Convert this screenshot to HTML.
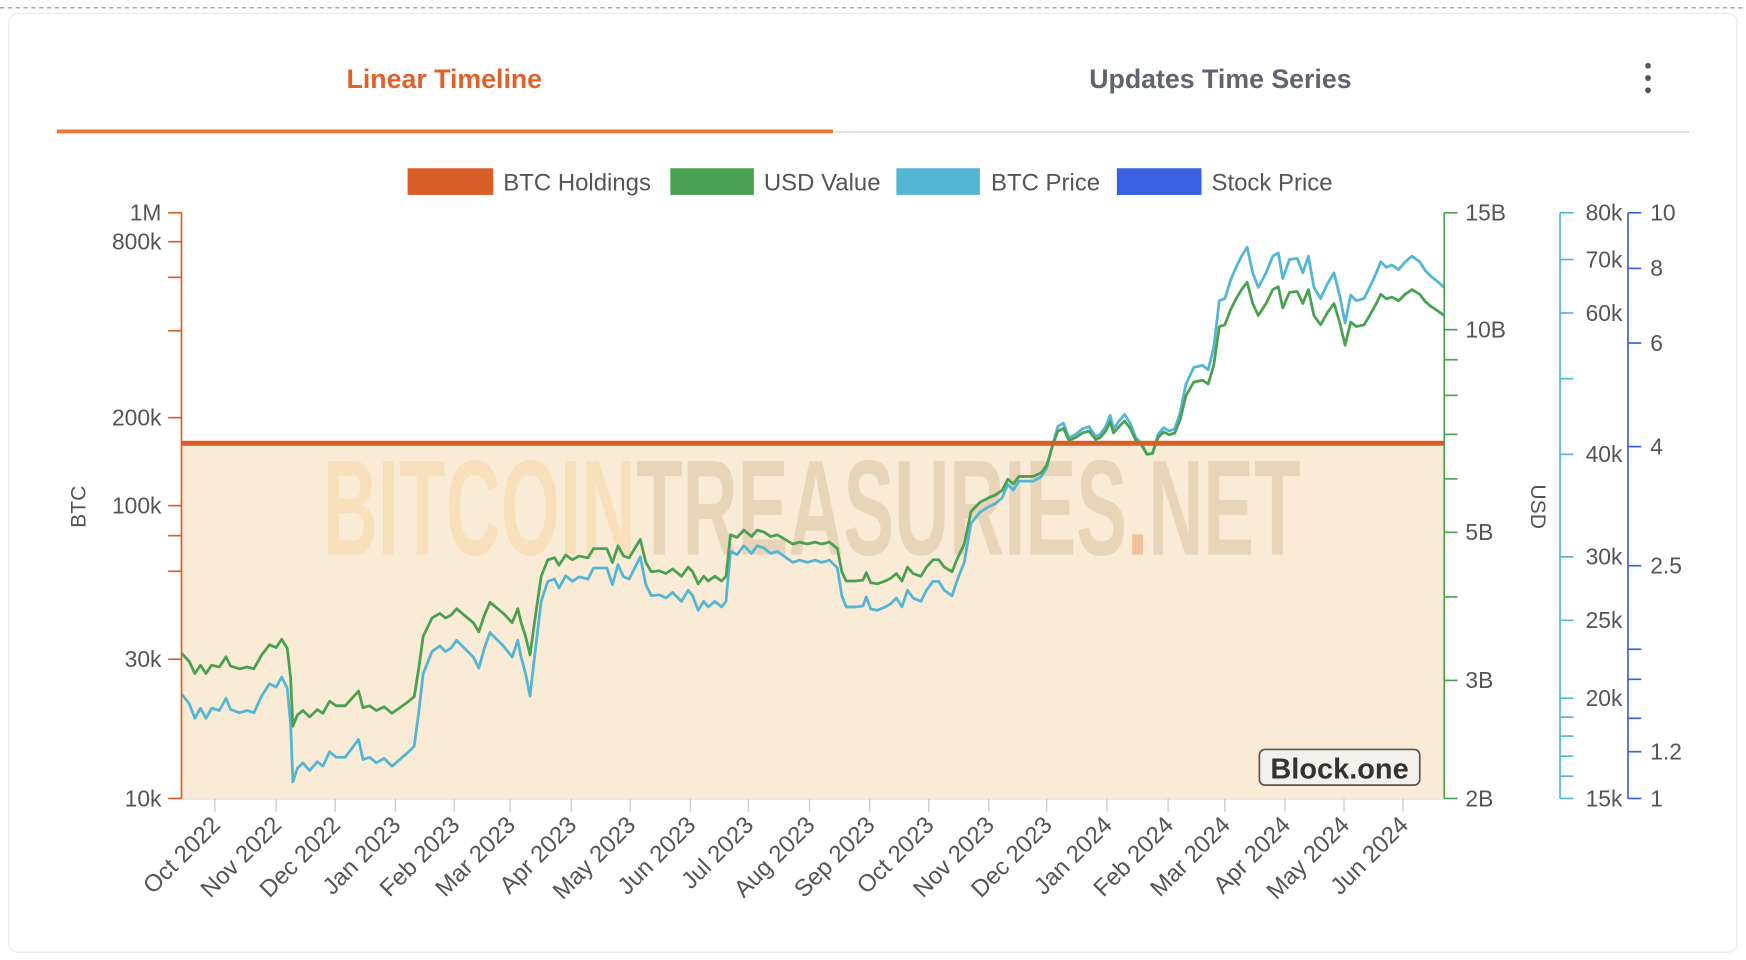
<!DOCTYPE html>
<html><head><meta charset="utf-8"><style>
html,body{margin:0;padding:0;background:#fff;}
svg{display:block;font-family:"Liberation Sans",sans-serif;}
</style></head><body>
<svg id="s" width="1746" height="960" viewBox="0 0 1568 862" xmlns="http://www.w3.org/2000/svg">
<line x1="0" y1="7" x2="1568" y2="7" stroke="#8a8fa8" stroke-dasharray="4,3" stroke-width="1"/>
<rect x="8" y="12" width="1552" height="843" rx="8" fill="#fff" stroke="#e8e8e8"/>
<text x="399" y="79" text-anchor="middle" font-size="24" font-weight="bold" fill="#e0622a">Linear Timeline</text>
<text x="1096" y="79" text-anchor="middle" font-size="24" font-weight="bold" fill="#5f6470">Updates Time Series</text>
<circle cx="1480" cy="59" r="2.6" fill="#555"/><circle cx="1480" cy="70" r="2.6" fill="#555"/><circle cx="1480" cy="81" r="2.6" fill="#555"/>
<line x1="748" y1="118.5" x2="1517" y2="118.5" stroke="#e2e2e2" stroke-width="2"/>
<line x1="51" y1="118" x2="748" y2="118" stroke="#e8783a" stroke-width="3.5"/>
<g font-size="21.5" fill="#555">
<rect x="366" y="151" width="77" height="24" fill="#d95f28"/><text x="452" y="171">BTC Holdings</text>
<rect x="602" y="151" width="75" height="24" fill="#4aa152"/><text x="686" y="171">USD Value</text>
<rect x="805" y="151" width="75" height="24" fill="#54b6d4"/><text x="890" y="171">BTC Price</text>
<rect x="1003" y="151" width="76" height="24" fill="#3a5fe0"/><text x="1088" y="171">Stock Price</text>
</g>
<rect x="163" y="398" width="1134" height="319" fill="#faebd6"/>
<text x="290" y="498" font-size="122" font-weight="bold" textLength="878" lengthAdjust="spacingAndGlyphs" opacity="0.55"><tspan fill="#f7d8a8">BITCOIN</tspan><tspan fill="#d9c2a2">TREASURIES</tspan><tspan fill="#e8a070">.</tspan><tspan fill="#d9c2a2">NET</tspan></text>
<g id="lines"></g>
<line x1="163" y1="398" x2="1297" y2="398" stroke="#d95f28" stroke-width="4.5"/>
<rect x="1131" y="673" width="144" height="32" rx="5" fill="#f4f1ec" stroke="#555" stroke-width="1.5"/>
<text x="1203" y="699" text-anchor="middle" font-size="26" font-weight="bold" fill="#333">Block.one</text>
<g id="axes"></g>
<text transform="translate(77,455) rotate(-90)" text-anchor="middle" font-size="19" fill="#555">BTC</text>
<text transform="translate(1375,455) rotate(90)" text-anchor="middle" font-size="19" fill="#555">USD</text>
</svg>
<script>
var NS="http://www.w3.org/2000/svg";
function el(p,t,a,txt){var e=document.createElementNS(NS,t);for(var k in a)e.setAttribute(k,a[k]);if(txt!=null)e.textContent=txt;document.getElementById(p).appendChild(e);return e;}
var c=[[163,623],[170,632],[175,645],[180,636],[185,645],[190,636],[197,638],[203,627],[207,637],[215,640],[222,638],[228,640],[235,625],[242,614],[248,617],[253,608],[258,618],[261,650],[263,702],[267,690],[272,685],[278,692],[285,684],[290,688],[296,675],[302,680],[310,680],[316,672],[322,664],[326,682],[332,680],[338,685],[345,681],[352,688],[358,683],[366,676],[372,670],[376,640],[380,605],[388,585],[395,580],[400,585],[405,582],[410,575],[418,583],[425,590],[430,600],[435,582],[440,568],[447,575],[452,580],[460,590],[465,575],[468,590],[472,605],[476,625],[480,590],[486,540],[492,522],[498,520],[502,528],[508,517],[514,522],[520,518],[528,520],[533,510],[538,510],[545,510],[550,525],[555,507],[560,518],[565,520],[570,510],[575,500],[580,525],[585,535],[592,534],[598,537],[604,532],[612,540],[618,530],[622,535],[627,548],[632,540],[636,545],[642,540],[648,545],[652,540],[656,495],[662,498],[668,490],[675,497],[680,490],[686,492],[692,497],[698,495],[705,500],[712,505],[718,503],[725,505],[732,503],[738,505],[745,503],[752,510],[756,535],[760,545],[768,545],[775,544],[778,536],[782,547],[788,548],[795,545],[800,542],[805,537],[810,545],[815,530],[820,537],[827,540],[832,530],[838,522],[843,522],[848,530],[855,535],[860,520],[866,505],[872,470],[880,460],[888,455],[894,452],[900,447],[905,435],[910,440],[915,432],[920,432],[928,432],[935,428],[940,420],[945,400],[950,383],[955,380],[960,393],[966,390],[972,385],[978,383],[984,392],[988,390],[993,383],[997,373],[1000,385],[1005,378],[1010,372],[1015,380],[1020,393],[1025,398],[1030,408],[1035,407],[1040,390],[1045,384],[1050,387],[1055,385],[1060,370],[1065,345],[1072,330],[1080,328],[1085,332],[1090,312],[1095,270],[1100,268],[1105,252],[1110,240],[1115,230],[1120,222],[1125,245],[1130,258],[1137,245],[1143,230],[1148,227],[1152,250],[1158,233],[1165,232],[1170,245],[1175,230],[1180,258],[1186,268],[1192,255],[1198,245],[1203,265],[1208,290],[1213,265],[1218,270],[1225,268],[1230,258],[1236,245],[1240,235],[1245,240],[1250,238],[1256,242],[1262,235],[1268,230],[1275,235],[1280,243],[1285,248],[1290,252],[1297,258]];
var cp=c.map(function(p){return p.join(",")}).join(" ");
var gp=c.map(function(p){var price=15000*Math.pow(10,(717-p[1])/723.5);var v=price*163000/2e9;return p[0]+","+(717-601*Math.log10(v)).toFixed(1)}).join(" ");
el("lines","polyline",{points:cp,fill:"none",stroke:"#54b6d4","stroke-width":2.5,"stroke-linejoin":"round"});
el("lines","polyline",{points:gp,fill:"none",stroke:"#4aa152","stroke-width":2.5,"stroke-linejoin":"round"});
function axis(x,col,dir,ticks,lx,anchor){
 el("axes","line",{x1:x,y1:191,x2:x,y2:717,stroke:col,"stroke-width":1.5});
 ticks.forEach(function(t){el("axes","line",{x1:x,y1:t[0],x2:x+dir*12,y2:t[0],stroke:col,"stroke-width":1.5});
 if(t[1])el("axes","text",{x:lx,y:t[0]+7,"text-anchor":anchor,"font-size":20.5,fill:"#555"},t[1]);});
}
axis(163,"#d95f28",-1,[[191,"1M"],[217,"800k"],[249],[297],[375,"200k"],[454,"100k"],[481],[513],[592,"30k"],[717,"10k"]],145,"end");
axis(1297,"#4aa152",1,[[191,"15B"],[296,"10B"],[323],[355],[390],[430],[478,"5B"],[536],[611,"3B"],[717,"2B"]],1316,"start");
axis(1401,"#54b6d4",1,[[191,"80k"],[233,"70k"],[281,"60k"],[340],[408,"40k"],[500,"30k"],[557,"25k"],[627,"20k"],[644],[661],[679],[697],[717,"15k"]],1457,"end");
axis(1462,"#3a5fe0",1,[[191,"10"],[241,"8"],[308,"6"],[401,"4"],[508,"2.5"],[583],[610],[645],[675,"1.2"],[717,"1"]],1482,"start");
var m=[[193,"Oct 2022"],[248,"Nov 2022"],[301,"Dec 2022"],[355,"Jan 2023"],[408,"Feb 2023"],[458,"Mar 2023"],[513,"Apr 2023"],[566,"May 2023"],[620,"Jun 2023"],[672,"Jul 2023"],[727,"Aug 2023"],[781,"Sep 2023"],[834,"Oct 2023"],[888,"Nov 2023"],[940,"Dec 2023"],[994,"Jan 2024"],[1049,"Feb 2024"],[1100,"Mar 2024"],[1154,"Apr 2024"],[1207,"May 2024"],[1260,"Jun 2024"]];
el("axes","line",{x1:163,y1:717.5,x2:1297,y2:717.5,stroke:"#ddd","stroke-width":1});
m.forEach(function(t){el("axes","line",{x1:t[0],y1:717,x2:t[0],y2:729,stroke:"#ccc","stroke-width":1.2});
el("axes","text",{transform:"translate("+(t[0]+6)+",742) rotate(-45)","text-anchor":"end","font-size":21.5,fill:"#555"},t[1]);});
</script>
</body></html>
